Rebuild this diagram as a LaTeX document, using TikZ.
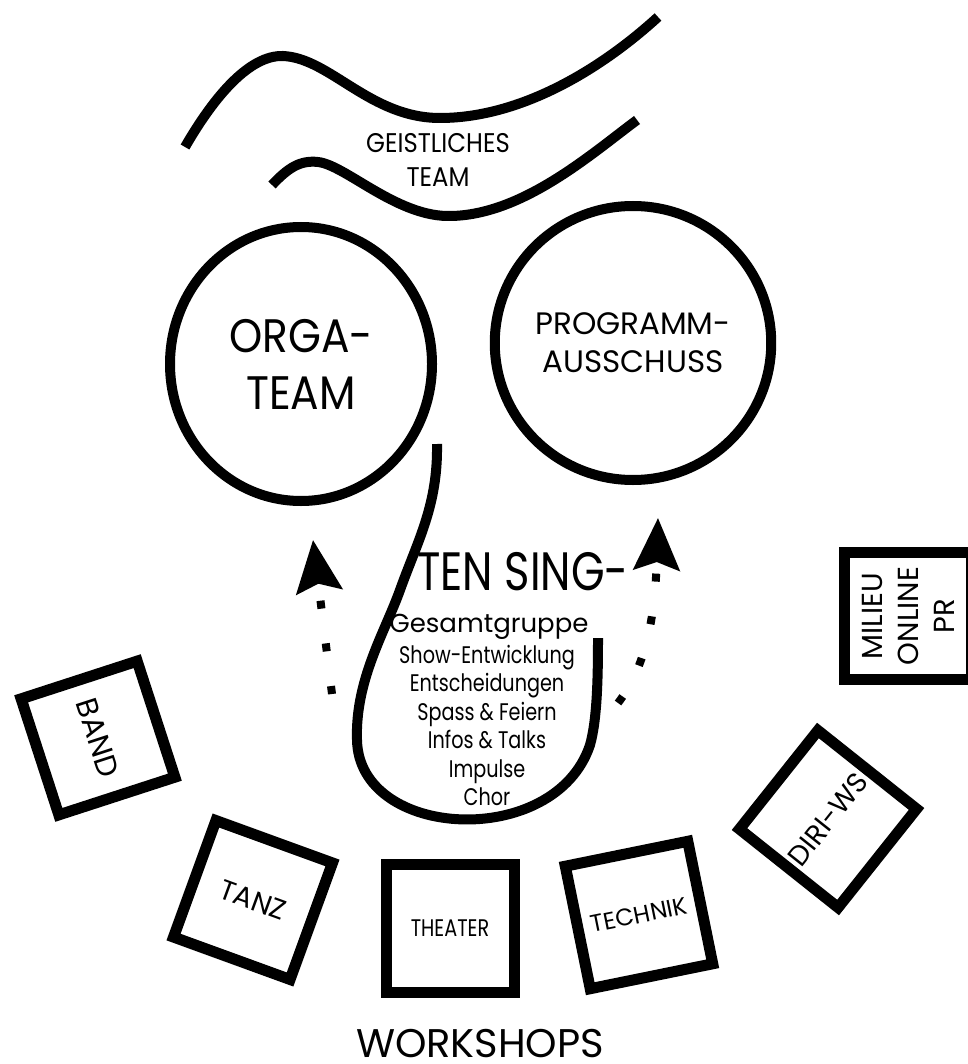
\documentclass[tikz,border=0pt]{standalone}
\usepackage{fontspec}
\setmainfont{Poppins}
\newfontfamily\narrowfont{Poppins}[FakeStretch=0.8]
\newfontfamily\midfont{Poppins}[FakeStretch=0.9]
\usepackage{tikz}
\usetikzlibrary{arrows.meta, shapes}

\tikzset{
	ring/.style={draw, ellipse, line width=10pt, inner sep=0pt, align=center},
	workshop/.style={draw, rectangle, line width=11pt, inner sep=0pt, align=center, font=\fontsize{24}{28}\selectfont},
	wave/.style={line width=10pt},
	dotarrow/.style={line width=8pt, dash pattern=on 8pt off 35pt, -{Stealth[length=52pt, width=46pt, inset=8pt]}},
	item/.style={anchor=base, font=\narrowfont\fontsize{24}{28}\selectfont}
}

\begin{document}
\begin{tikzpicture}[x=1pt, y=-1pt]
				\useasboundingbox (0,0) rectangle (967,1064);
				\path[draw, wave] (185,147) .. controls (215,95) and (250,55) .. (283,56) .. controls (330,58) and (370,118) .. (440,118) .. controls (520,118) and (600,70) .. (658,17);
				\path[draw, wave] (272,185) .. controls (288,168) and (300,160) .. (318,162) .. controls (345,165) and (395,215) .. (447,216) .. controls (520,217) and (590,155) .. (637,120);
				\node[align=center, font=\midfont\fontsize{27}{34}\selectfont] (geist) at (438,160) {GEISTLICHES\\TEAM};

				\node[ring, minimum width=262pt, minimum height=274pt, font=\midfont\fontsize{47}{57}\selectfont] (orga) at (301,364) {ORGA-\\TEAM};
				\node[ring, minimum size=274pt, font=\fontsize{31}{38}\selectfont] (prog) at (633,343) {PROGRAMM-\\AUSSCHUSS};

				\path[draw, wave] (437,444) .. controls (438,505) and (418,540) .. (400,590) .. controls (385,632) and (355,680) .. (357,740) .. controls (359,840) and (555,850) .. (590,745) .. controls (597,720) and (598,680) .. (598,638);

				\node[anchor=base, font=\narrowfont\fontsize{54}{60}\selectfont] (tensing) at (523,590) {TEN SING-};
				\node[anchor=base, font=\fontsize{26}{30}\selectfont] (gesamt) at (489,632) {Gesamtgruppe};
				\foreach \txt [count=\i] in {Show-Entwicklung, Entscheidungen, Spass \& Feiern, Infos \& Talks, Impulse, Chor}
					\node[item] (item\i) at (487,{663+28.5*(\i-1)}) {\txt};

				\coordinate (la0) at (332,694);
				\coordinate (la1) at (313,540);
				\coordinate (ra0) at (618,703);
				\coordinate (ra1) at (658,518);
				\path[draw, dotarrow] (la0) -- (la1);
				\path[draw, dotarrow] (ra0) .. controls (645,668) and (655,620) .. (ra1);

				\node[workshop, minimum size=122pt, rotate=-72, font=\fontsize{30}{32}\selectfont] (band) at (98,738) {BAND};
				\node[workshop, minimum size=124pt, rotate=-20, font=\fontsize{28}{30}\selectfont] (tanz) at (253,900) {TANZ};
				\node[workshop, minimum size=128pt, font=\narrowfont\fontsize{24}{28}\selectfont] (theater) at (450,928) {THEATER};
				\node[workshop, minimum size=125pt, rotate=11.5, font=\fontsize{24}{26}\selectfont] (technik) at (639,915) {TECHNIK};
				\node[workshop, minimum size=126pt, rotate=51.5, font=\fontsize{28}{30}\selectfont] (diri) at (828,819) {DIRI-WS};
				\node[workshop, minimum size=127pt, rotate=90, font=\fontsize{29}{36}\selectfont] (milieu) at (908,616) {MILIEU\\ONLINE\\PR};

				\node[anchor=base, inner sep=0pt, font=\fontsize{40}{42}\selectfont] (workshops) at (480,1057) {WORKSHOPS};
\end{tikzpicture}
\end{document}
